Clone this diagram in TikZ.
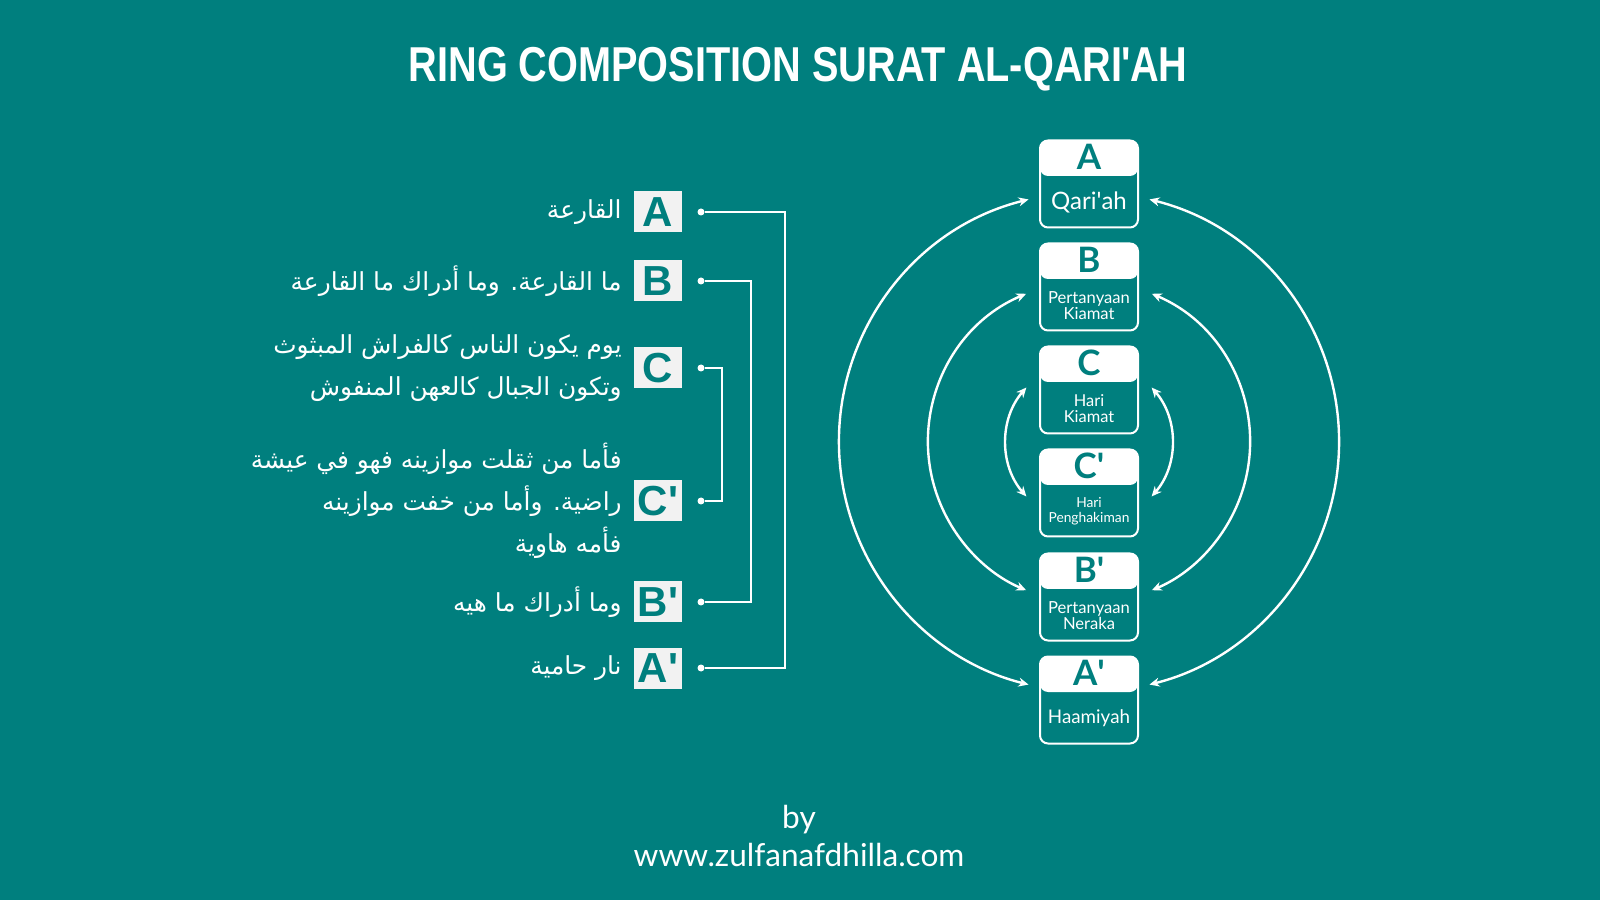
\documentclass[tikz,border=0pt]{standalone}
\usepackage{fontspec}
\usepackage{tikz}
\usetikzlibrary{arrows.meta,positioning,calc}
\setmainfont{Lato}
\newfontfamily\titlefont[FakeStretch=0.81]{Liberation Sans}
\newfontfamily\tagfamily{Liberation Sans}
\newfontfamily\arabicfont[Script=Arabic]{DejaVu Sans}
\TeXXeTstate=1
\definecolor{teal0}{HTML}{007F7E}
\definecolor{tagbg}{HTML}{F2F2F2}
\newcommand{\q}{\textquotesingle}

\begin{document}
\begin{tikzpicture}[
  x=0.5pt,y=0.5pt,
  tag/.style={fill=tagbg,text=teal0,font=\tagfamily\bfseries\fontsize{21}{21}\selectfont,
              minimum width=24pt,minimum height=20.5pt,inner sep=0pt,text depth=0pt},
  ayat/.style={text=white,font=\arabicfont\fontsize{12.4}{21}\selectfont,
               align=right,anchor=east,inner sep=0pt},
  pindot/.style={circle,fill=white,inner sep=0pt,minimum size=3.5pt},
  bracket/.style={draw=white,line width=1pt},
  ringbox/.style={draw=white,line width=1pt,fill=teal0,rounded corners=4pt,
                  minimum width=49pt,minimum height=43.5pt,inner sep=0pt,
                  path picture={\fill[white] (path picture bounding box.north west)
                    rectangle ([yshift=-17.75pt]path picture bounding box.north east);}},
  ringhead/.style={text=teal0,font=\bfseries\fontsize{17.5}{17.5}\selectfont,
                   text depth=0pt,inner sep=0pt},
  ringtxt/.style={text=white,align=center,inner sep=0pt},
  ringarc/.style={{Stealth[length=5pt,width=4.5pt]}-{Stealth[length=5pt,width=4.5pt]},
                  draw=white,line width=1.2pt}
]
\useasboundingbox (0,0) rectangle (1600,900);
\fill[teal0] (0,0) rectangle (1600,900);

\node[text=white,anchor=base,font=\titlefont\bfseries\fontsize{24.5}{24.5}\selectfont]
  (title) at (798,818) {RING COMPOSITION SURAT AL-QARI\kern-0.5pt\q\kern-1.5pt AH};

% ayat and their tags
\node[tag] (lA) at (658,688) {A};
\node[tag] (lB) at (658,619) {B};
\node[tag] (lC) at (658,532) {C};
\node[tag] (lC2) at (658,399) {C\q};
\node[tag] (lB2) at (658,298) {B\q};
\node[tag] (lA2) at (658,232) {A\q};

\node[ayat] (xA) at (622,688) {\beginR القارعة\endR};
\node[ayat] (xB) at (622,619) {\beginR ما القارعة. وما أدراك ما القارعة\endR};
\node[ayat] (xC) at (622,532) {\beginR يوم يكون الناس كالفراش المبثوث\endR\\
                                 \beginR وتكون الجبال كالعهن المنفوش\endR};
\node[ayat] (xC2) at (622,399) {\beginR فأما من ثقلت موازينه فهو في عيشة\endR\\
                                  \beginR راضية. وأما من خفت موازينه\endR\\
                                  \beginR فأمه هاوية\endR};
\node[ayat] (xB2) at (622,298) {\beginR وما أدراك ما هيه\endR};
\node[ayat] (xA2) at (622,232) {\beginR نار حامية\endR};

% brackets
\node[pindot] (dA) at (701,688) {};
\node[pindot] (dB) at (701,619) {};
\node[pindot] (dC) at (701,532) {};
\node[pindot] (dC2) at (701,399) {};
\node[pindot] (dB2) at (701,298) {};
\node[pindot] (dA2) at (701,232) {};
\coordinate (kA) at (785,688);
\coordinate (kB) at (751,619);
\coordinate (kC) at (722,532);
\draw[bracket] (dA) -- (kA) |- (dA2);
\draw[bracket] (dB) -- (kB) |- (dB2);
\draw[bracket] (dC) -- (kC) |- (dC2);

% ring
\node[ringbox] (qA) at (1089,716) {};
\node[ringbox] (qB) at (1089,613) {};
\node[ringbox] (qC) at (1089,510) {};
\node[ringbox] (qC2) at (1089,407) {};
\node[ringbox] (qB2) at (1089,303) {};
\node[ringbox] (qA2) at (1089,200) {};

\node[ringhead] (hA) at ($(qA.north)+(0,-17.5)$) {A};
\node[ringhead] (hB) at ($(qB.north)+(0,-17.5)$) {B};
\node[ringhead] (hC) at ($(qC.north)+(0,-17.5)$) {C};
\node[ringhead] (hC2) at ($(qC2.north)+(0,-17.5)$) {C\q};
\node[ringhead] (hB2) at ($(qB2.north)+(0,-17.5)$) {B\q};
\node[ringhead] (hA2) at ($(qA2.north)+(0,-17.5)$) {A\q};

\node[ringtxt,font=\fontsize{12}{12}\selectfont] (tA) at ($(qA.south)+(0,26)$) {Qari\q ah};
\node[ringtxt,font=\fontsize{8.3}{8.3}\selectfont] (tB) at ($(qB.south)+(0,26)$) {Pertanyaan\\Kiamat};
\node[ringtxt,font=\fontsize{8.2}{8.2}\selectfont] (tC) at ($(qC.south)+(0,26)$) {Hari\\Kiamat};
\node[ringtxt,font=\fontsize{6.9}{7.6}\selectfont] (tC2) at ($(qC2.south)+(0,26)$) {Hari\\Penghakiman};
\node[ringtxt,font=\fontsize{8.3}{8.3}\selectfont] (tB2) at ($(qB2.south)+(0,26)$) {Pertanyaan\\Neraka};
\node[ringtxt,font=\fontsize{9.4}{9.4}\selectfont] (tA2) at ($(qA2.south)+(0,26)$) {Haamiyah};

\coordinate (ring) at (1089,458);
\draw[ringarc] ($(ring)+(104:250)$) arc (104:256:250);
\draw[ringarc] ($(ring)+(76:250)$) arc (76:-76:250);
\draw[ringarc] ($(ring)+(113:161)$) arc (113:247:161);
\draw[ringarc] ($(ring)+(67:161)$) arc (67:-67:161);
\draw[ringarc] ($(ring)+(139:83)$) arc (139:221:83);
\draw[ringarc] ($(ring)+(41:83)$) arc (41:-41:83);

% credit
\node[text=white,font=\fontsize{15.8}{15.8}\selectfont] (by) at (799,80) {by};
\node[text=white,font=\fontsize{15.8}{15.8}\selectfont] (web) at (799,45) {www.zulfanafdhilla.com};
\end{tikzpicture}
\end{document}
